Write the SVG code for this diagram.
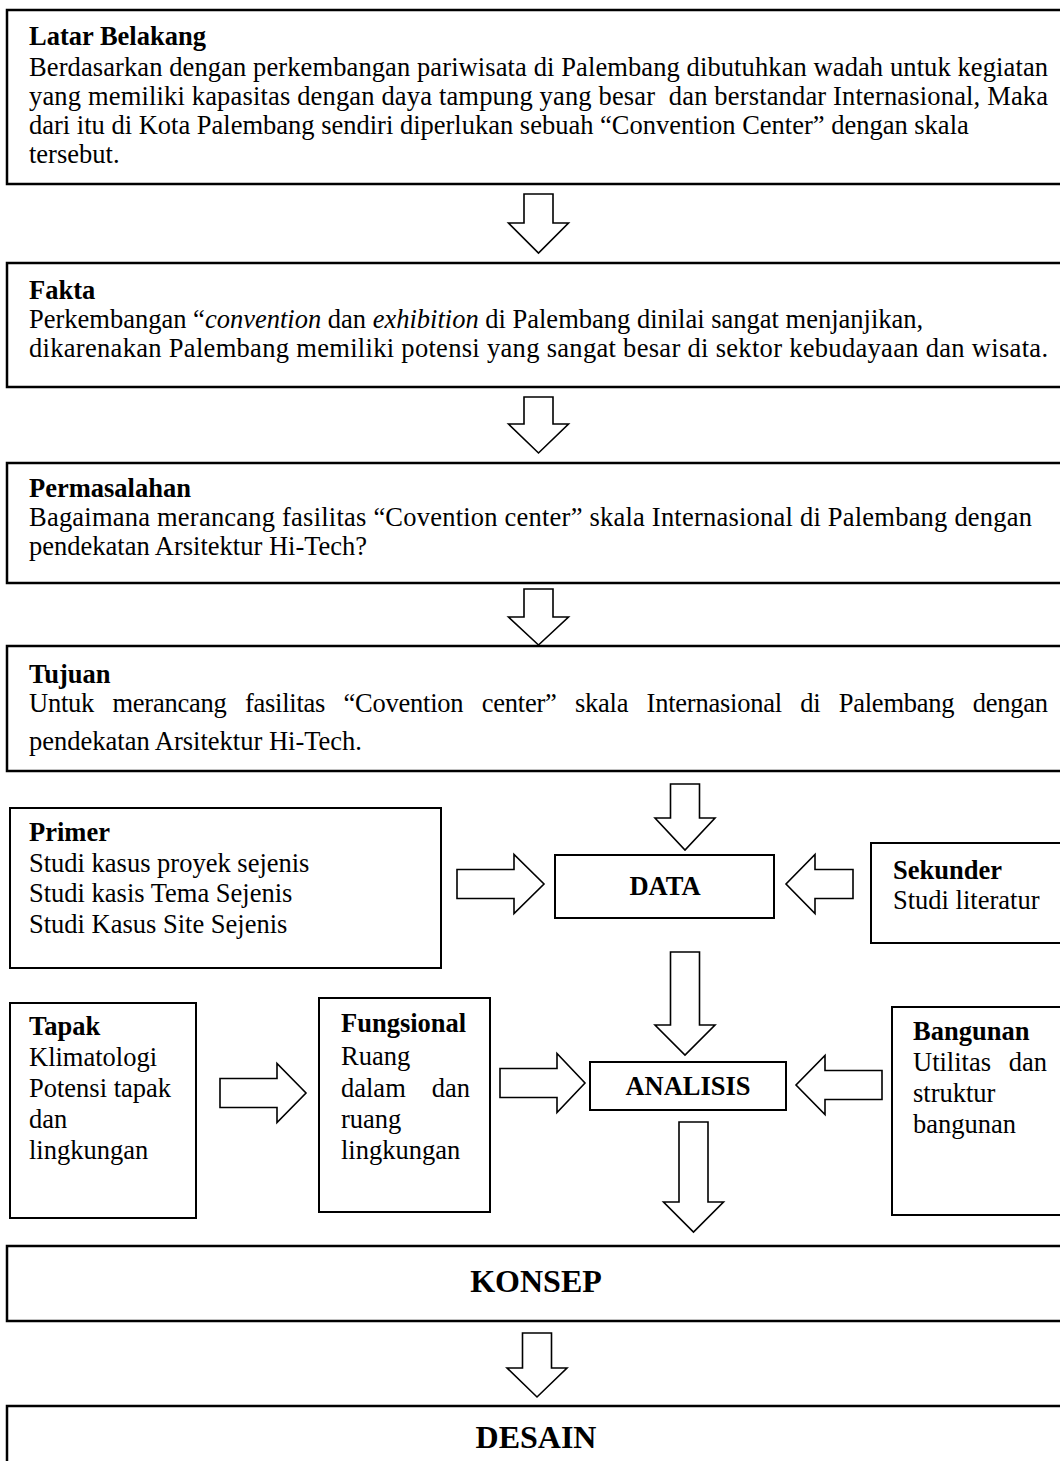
<svg xmlns="http://www.w3.org/2000/svg" width="1060" height="1461" viewBox="0 0 1060 1461">
<style>
.bg{fill:#fff}
.box{fill:#fff;stroke:#000;stroke-width:2.5}
.sbox{fill:#fff;stroke:#000;stroke-width:2}
.arr{fill:#fff;stroke:#000;stroke-width:1.6;stroke-linejoin:miter}
text{font-family:"Liberation Serif","Times New Roman",serif;font-size:26.5px;fill:#000}
.h{font-weight:bold}
.big{font-weight:bold;font-size:32px;text-anchor:middle}
.mid{font-weight:bold;text-anchor:middle}
.i{font-style:italic}
</style>
<rect class="bg" x="0" y="0" width="1060" height="1461"/>
<g id="connectors">
<polygon class="arr" points="524,194 553,194 553,223 568.5,223 538.5,253 508.5,223 524,223"/>
<polygon class="arr" points="524,397 553,397 553,424 568.5,424 538.5,453 508.5,424 524,424"/>
<polygon class="arr" points="524,589 553,589 553,617 568.5,617 538.5,645 508.5,617 524,617"/>
<polygon class="arr" points="670.5,784 699.5,784 699.5,818 715,818 685,850 655,818 670.5,818"/>
<polygon class="arr" points="457,869.5 514,869.5 514,854.5 544,884 514,913.5 514,898.5 457,898.5"/>
<polygon class="arr" points="853,869.5 815,869.5 815,854.5 786,884 815,913.5 815,898.5 853,898.5"/>
<polygon class="arr" points="670.5,952 699.5,952 699.5,1025 715,1025 685,1055 655,1025 670.5,1025"/>
<polygon class="arr" points="220,1078.5 277,1078.5 277,1063.5 306,1093 277,1122.5 277,1107.5 220,1107.5"/>
<polygon class="arr" points="500,1068.5 557,1068.5 557,1053.5 585,1083 557,1112.5 557,1097.5 500,1097.5"/>
<polygon class="arr" points="882,1070.5 825,1070.5 825,1055.5 796,1085 825,1114.5 825,1099.5 882,1099.5"/>
<polygon class="arr" points="679,1122 708,1122 708,1202 723.5,1202 693.5,1232 663.5,1202 679,1202"/>
<polygon class="arr" points="522.5,1333 551.5,1333 551.5,1368 567,1368 537,1397 507,1368 522.5,1368"/>
</g>
<g id="latar-belakang">
<rect class="box" x="7" y="10" width="1070" height="174"/>
<text class="h" x="29" y="45">Latar Belakang</text>
<text x="29" y="76" textLength="1019" lengthAdjust="spacing">Berdasarkan dengan perkembangan pariwisata di Palembang dibutuhkan wadah untuk kegiatan</text>
<text x="29" y="105" textLength="1019" lengthAdjust="spacing" xml:space="preserve">yang memiliki kapasitas dengan daya tampung yang besar  dan berstandar Internasional, Maka</text>
<text x="29" y="134">dari itu di Kota Palembang sendiri diperlukan sebuah “Convention Center” dengan skala</text>
<text x="29" y="163">tersebut.</text>
</g>
<g id="fakta">
<rect class="box" x="7" y="263" width="1070" height="124"/>
<text class="h" x="29" y="299">Fakta</text>
<text x="29" y="328" xml:space="preserve">Perkembangan “<tspan class="i">convention</tspan> dan <tspan class="i">exhibition</tspan> di Palembang dinilai sangat menjanjikan,</text>
<text x="29" y="357" textLength="1019" lengthAdjust="spacing">dikarenakan Palembang memiliki potensi yang sangat besar di sektor kebudayaan dan wisata.</text>
</g>
<g id="permasalahan">
<rect class="box" x="7" y="463" width="1070" height="120"/>
<text class="h" x="29" y="497">Permasalahan</text>
<text x="29" y="526" textLength="1003" lengthAdjust="spacing">Bagaimana merancang fasilitas “Covention center” skala Internasional di Palembang dengan</text>
<text x="29" y="555">pendekatan Arsitektur Hi-Tech?</text>
</g>
<g id="tujuan">
<rect class="box" x="7" y="646" width="1070" height="125"/>
<text class="h" x="29" y="683">Tujuan</text>
<text x="29" y="712" textLength="1019" lengthAdjust="spacing" style="word-spacing:12px">Untuk merancang fasilitas “Covention center” skala Internasional di Palembang dengan</text>
<text x="29" y="750">pendekatan Arsitektur Hi-Tech.</text>
</g>
<g id="primer">
<rect class="sbox" x="10" y="808" width="431" height="160"/>
<text class="h" x="29" y="841">Primer</text>
<text x="29" y="872">Studi kasus proyek sejenis</text>
<text x="29" y="902">Studi kasis Tema Sejenis</text>
<text x="29" y="933">Studi Kasus Site Sejenis</text>
</g>
<g id="data">
<rect class="sbox" x="555" y="855" width="219" height="63"/>
<text class="mid" x="665" y="895">DATA</text>
</g>
<g id="sekunder">
<rect class="sbox" x="871" y="843" width="200" height="100"/>
<text class="h" x="893" y="879">Sekunder</text>
<text x="893" y="909">Studi literatur</text>
</g>
<g id="tapak">
<rect class="sbox" x="10" y="1003" width="186" height="215"/>
<text class="h" x="29" y="1035">Tapak</text>
<text x="29" y="1066">Klimatologi</text>
<text x="29" y="1097">Potensi tapak</text>
<text x="29" y="1128">dan</text>
<text x="29" y="1159">lingkungan</text>
</g>
<g id="fungsional">
<rect class="sbox" x="319" y="998" width="171" height="214"/>
<text class="h" x="341" y="1032">Fungsional</text>
<text x="341" y="1065">Ruang</text>
<text x="341" y="1097">dalam</text>
<text x="470" y="1097" text-anchor="end">dan</text>
<text x="341" y="1128">ruang</text>
<text x="341" y="1159">lingkungan</text>
</g>
<g id="analisis">
<rect class="sbox" x="590" y="1062" width="196" height="48"/>
<text class="mid" x="688" y="1095">ANALISIS</text>
</g>
<g id="bangunan">
<rect class="sbox" x="892" y="1007" width="180" height="208"/>
<text class="h" x="913" y="1040">Bangunan</text>
<text x="913" y="1071">Utilitas</text>
<text x="1047" y="1071" text-anchor="end">dan</text>
<text x="913" y="1102">struktur</text>
<text x="913" y="1133">bangunan</text>
</g>
<g id="konsep">
<rect class="box" x="7" y="1246" width="1070" height="75"/>
<text class="big" x="536" y="1292">KONSEP</text>
</g>
<g id="desain">
<rect class="box" x="7" y="1406" width="1070" height="70"/>
<text class="big" x="536" y="1448">DESAIN</text>
</g>
</svg>
